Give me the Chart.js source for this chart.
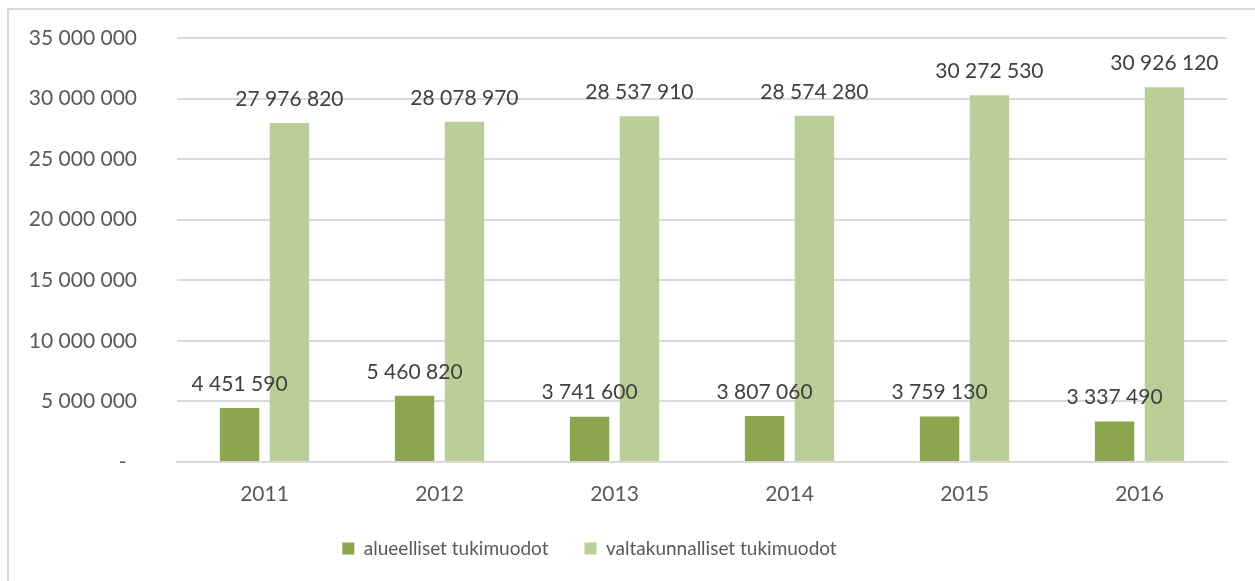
<!DOCTYPE html>
<html>
<head>
<meta charset="utf-8">
<script src="https://cdn.jsdelivr.net/npm/chart.js@4.4.1/dist/chart.umd.min.js"></script>
<style>
  html, body { margin: 0; padding: 0; background: #ffffff; }
  #wrap { position: relative; width: 1255px; height: 581px; overflow: hidden; }
  #frame { position: absolute; left: 7px; top: 8px; width: 1260px; height: 600px; border: 2px solid #d9d9d9; box-sizing: border-box; }
  canvas { position: absolute; left: 0; top: 0; }
</style>
</head>
<body>
<div id="wrap">
  <div id="frame"></div>
  <canvas id="bar-chart" width="1255" height="581"></canvas>
</div>
<script>
    "use strict";

    // Data
    var years = ["2011", "2012", "2013", "2014", "2015", "2016"];
    var alueelliset = [4451590, 5460820, 3741600, 3807060, 3759130, 3337490];
    var valtakunnalliset = [27976820, 28078970, 28537910, 28574280, 30272530, 30926120];
    var seriesNames = ["alueelliset tukimuodot", "valtakunnalliset tukimuodot"];

    function fmt(v) {
        return String(Math.round(v)).replace(/\B(?=(\d{3})+(?!\d))/g, " ");
    }

    // Data labels above the bars
    var barLabels = {
        id: "barLabels",
        afterDatasetsDraw: function (chart) {
            var ctx = chart.ctx;
            ctx.save();
            ctx.font = "21px Lato";
            ctx.fillStyle = "#404040";
            ctx.textAlign = "center";
            ctx.textBaseline = "middle";
            chart.data.datasets.forEach(function (ds, i) {
                chart.getDatasetMeta(i).data.forEach(function (bar, j) {
                    ctx.fillText(fmt(ds.data[j]), bar.x, bar.y - 24);
                });
            });
            ctx.restore();
        }
    };

    // Legend sits a bit left of the centre, like in the original
    var legendShift = {
        id: "legendShift",
        afterLayout: function (chart) {
            chart.legend.left -= 24;
            chart.legend.right -= 24;
        }
    };

    Chart.defaults.font.family = "Lato";
    Chart.defaults.font.size = 21;
    Chart.defaults.color = "#595959";

    var ctx = document.getElementById("bar-chart").getContext("2d");
    var myChart = new Chart(ctx, {
        type: "bar",
        data: {
            labels: years,
            datasets: [
                {
                    label: seriesNames[0],
                    backgroundColor: "#8ba64f",
                    data: alueelliset,
                    categoryPercentage: 0.57,
                    barPercentage: 0.79,
                },
                {
                    label: seriesNames[1],
                    backgroundColor: "#bacf97",
                    data: valtakunnalliset,
                    categoryPercentage: 0.57,
                    barPercentage: 0.79,
                },
            ],
        },
        options: {
            responsive: false,
            animation: false,
            layout: { padding: { left: 0, right: 28, top: 38, bottom: 13 } },
            scales: {
                x: {
                    grid: { display: false, drawTicks: false },
                    border: { display: true, color: "#d9d9d9", width: 2 },
                    ticks: { padding: 20, color: "#595959" },
                    afterFit: function (s) { s.height = 41; },
                },
                y: {
                    min: 0,
                    max: 35000000,
                    grid: { color: "#d9d9d9", lineWidth: 2, drawTicks: false },
                    border: { display: false },
                    ticks: {
                        stepSize: 5000000,
                        padding: 40,
                        color: "#595959",
                        callback: function (v) { return v === 0 ? "-\u2002" : fmt(v); },
                    },
                    afterFit: function (s) {
                        s.width = 177;
                        s.paddingTop = 0;
                        s.paddingBottom = 0;
                    },
                },
            },
            plugins: {
                legend: {
                    position: "bottom",
                    labels: {
                        boxWidth: 12,
                        boxHeight: 12,
                        padding: 36,
                        color: "#595959",
                        font: { size: 19 },
                    },
                },
                tooltip: { enabled: false },
            },
        },
        plugins: [barLabels, legendShift],
    });
</script>
</body>
</html>
